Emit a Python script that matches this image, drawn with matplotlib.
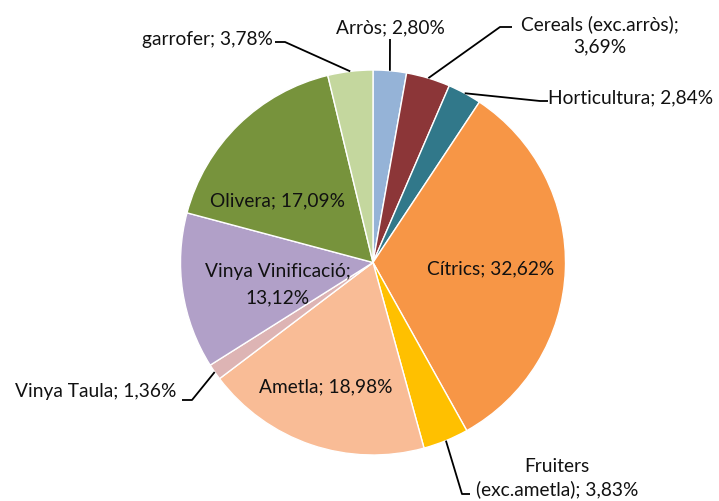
import numpy as np
import matplotlib.pyplot as plt

labels = ["Arròs", "Cereals (exc.arròs)", "Horticultura", "Cítrics",
          "Fruiters (exc.ametla)", "Ametla", "Vinya Taula",
          "Vinya Vinificació", "Olivera", "garrofer"]
shares = [2.80, 3.69, 2.84, 32.62, 3.83, 18.98, 1.36, 13.12, 17.09, 3.78]
colors = ["#95B3D7", "#8C3638", "#31788A", "#F79646", "#FFC000",
          "#F9BC96", "#DDB4B4", "#B1A0C8", "#77933C", "#C4D79E"]

# percentages with Catalan decimal comma
pct = [f"{v:.2f}".replace(".", ",") + "%" for v in shares]

W, H = 719, 502
plt.rcParams['font.family'] = ['Lato', 'DejaVu Sans']

fig = plt.figure(figsize=(W / 100, H / 100), dpi=100)
ax = fig.add_axes([0, 0, 1, 1])

cx, cy, R = 373, H - 263.5, 192.5
wedges, _ = ax.pie(shares, colors=colors, startangle=90, counterclock=False,
                   center=(cx, cy), radius=R, frame=True,
                   wedgeprops=dict(edgecolor='white', linewidth=1))
ax.set_xlim(0, W)
ax.set_ylim(0, H)
ax.axis('off')


def P(x, y):
    # pixel coords (top-left origin) -> data coords
    return x, H - y


def edge(i):
    w = wedges[i]
    a = np.deg2rad((w.theta1 + w.theta2) / 2)
    return cx + R * np.cos(a), cy + R * np.sin(a)


fs = 13.8
kw = dict(fontsize=fs, color='#111111')

# inside labels
ax.text(*P(491, 269), f"{labels[3]}; {pct[3]}", ha='center', va='center', **kw)
ax.text(*P(326, 387), f"{labels[5]}; {pct[5]}", ha='center', va='center', **kw)
ax.text(*P(278, 285), f"{labels[7]};\n{pct[7]}", ha='center', va='center',
        linespacing=1.65, **kw)
ax.text(*P(278, 201), f"{labels[8]}; {pct[8]}", ha='center', va='center', **kw)

# outside labels with leader lines: (index, elbow, line end, text pos, ha, text)
outside = [
    (0, (390, 40), (390, 40), (390, 28), 'center', f"{labels[0]}; {pct[0]}"),
    (1, (500, 28), (512, 28), (600, 35), 'center', "Cereals (exc.arròs);\n" + pct[1]),
    (2, (540, 102), (548, 102), (548, 98), 'left', f"{labels[2]}; {pct[2]}"),
    (4, (462, 495), (470, 495), (557, 478), 'center', "Fruiters\n(exc.ametla); " + pct[4]),
    (6, (192, 401), (182, 401), (176, 392), 'right', f"{labels[6]}; {pct[6]}"),
    (9, (285, 43), (275, 43), (273, 40), 'right', f"{labels[9]}; {pct[9]}"),
]
for i, elbow, end, tpos, ha, txt in outside:
    ex, ey = edge(i)
    ax.plot([ex, P(*elbow)[0], P(*end)[0]], [ey, P(*elbow)[1], P(*end)[1]],
            color='black', linewidth=1.3, solid_capstyle='butt', zorder=5)
    ax.text(*P(*tpos), txt, ha=ha, va='center', multialignment='center',
            linespacing=1.35, **kw)

fig.savefig('out.png', dpi=100)
